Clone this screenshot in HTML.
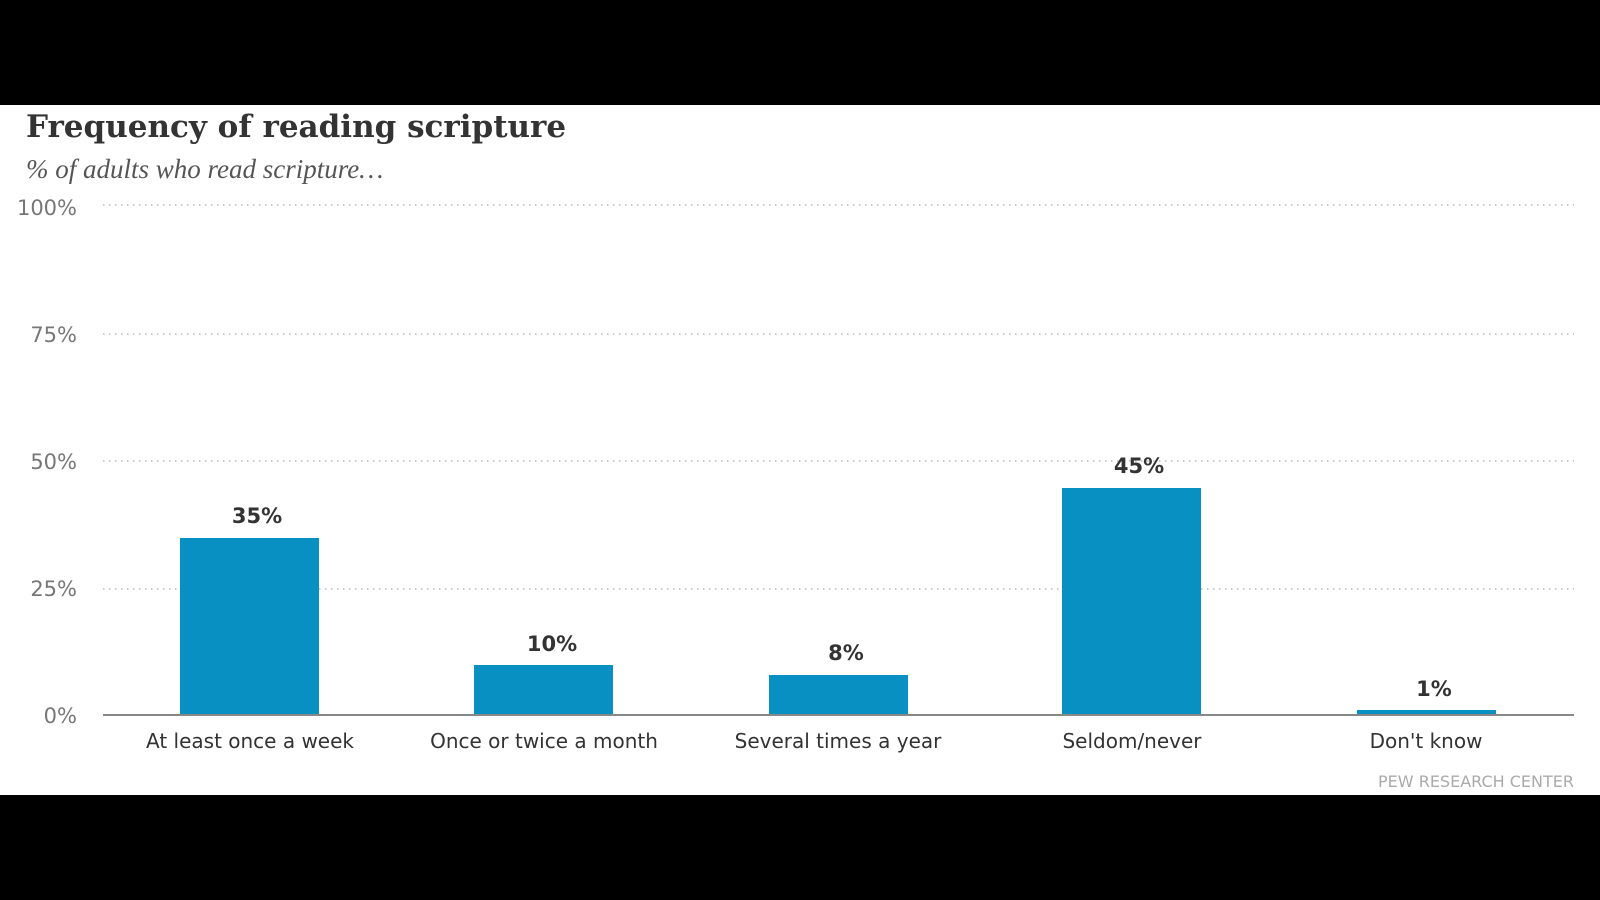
<!DOCTYPE html>
<html><head><meta charset="utf-8"><style>
body{margin:0;width:1600px;height:900px;background:#000;overflow:hidden}
svg{display:block}
</style></head><body>
<svg width="1600" height="900" xmlns="http://www.w3.org/2000/svg">
<rect x="0" y="0" width="1600" height="900" fill="#000"/>
<rect x="0" y="105" width="1600" height="690" fill="#fff"/>
<text x="26" y="137" font-family="DejaVu Serif, serif" font-weight="bold" font-size="31" fill="#333">Frequency of reading scripture</text>
<text x="26" y="178" font-family="Liberation Serif, serif" font-style="italic" font-size="27" fill="#555">% of adults who read scripture…</text>
<g stroke="#bbb" stroke-width="1.5" stroke-dasharray="1.5,4.5">
<line x1="103" y1="205" x2="1574" y2="205"/>
<line x1="103" y1="334" x2="1574" y2="334"/>
<line x1="103" y1="461" x2="1574" y2="461"/>
<line x1="103" y1="589" x2="1574" y2="589"/>
</g>
<g font-family="DejaVu Sans, sans-serif" font-size="21" fill="#777" text-anchor="end">
<text x="77" y="215">100%</text>
<text x="77" y="342">75%</text>
<text x="77" y="469">50%</text>
<text x="77" y="596">25%</text>
<text x="77" y="723">0%</text>
</g>
<g fill="#0890c2">
<rect x="180" y="538" width="139" height="177"/>
<rect x="474" y="665" width="139" height="50"/>
<rect x="769" y="675" width="139" height="40"/>
<rect x="1062" y="488" width="139" height="227"/>
<rect x="1357" y="710" width="139" height="5"/>
</g>
<line x1="103" y1="715" x2="1574" y2="715" stroke="#888" stroke-width="2"/>
<g font-family="DejaVu Sans, sans-serif" font-weight="bold" font-size="21" fill="#333" text-anchor="middle">
<text x="257" y="523">35%</text>
<text x="552" y="651">10%</text>
<text x="846" y="660">8%</text>
<text x="1139" y="473">45%</text>
<text x="1434" y="696">1%</text>
</g>
<g font-family="DejaVu Sans, sans-serif" font-size="20" fill="#333" text-anchor="middle">
<text x="250" y="748">At least once a week</text>
<text x="544" y="748">Once or twice a month</text>
<text x="838" y="748">Several times a year</text>
<text x="1132" y="748">Seldom/never</text>
<text x="1426" y="748">Don't know</text>
</g>
<text x="1574" y="787" text-anchor="end" font-family="DejaVu Sans, sans-serif" font-size="16" fill="#aaa">PEW RESEARCH CENTER</text>
</svg>
</body></html>
